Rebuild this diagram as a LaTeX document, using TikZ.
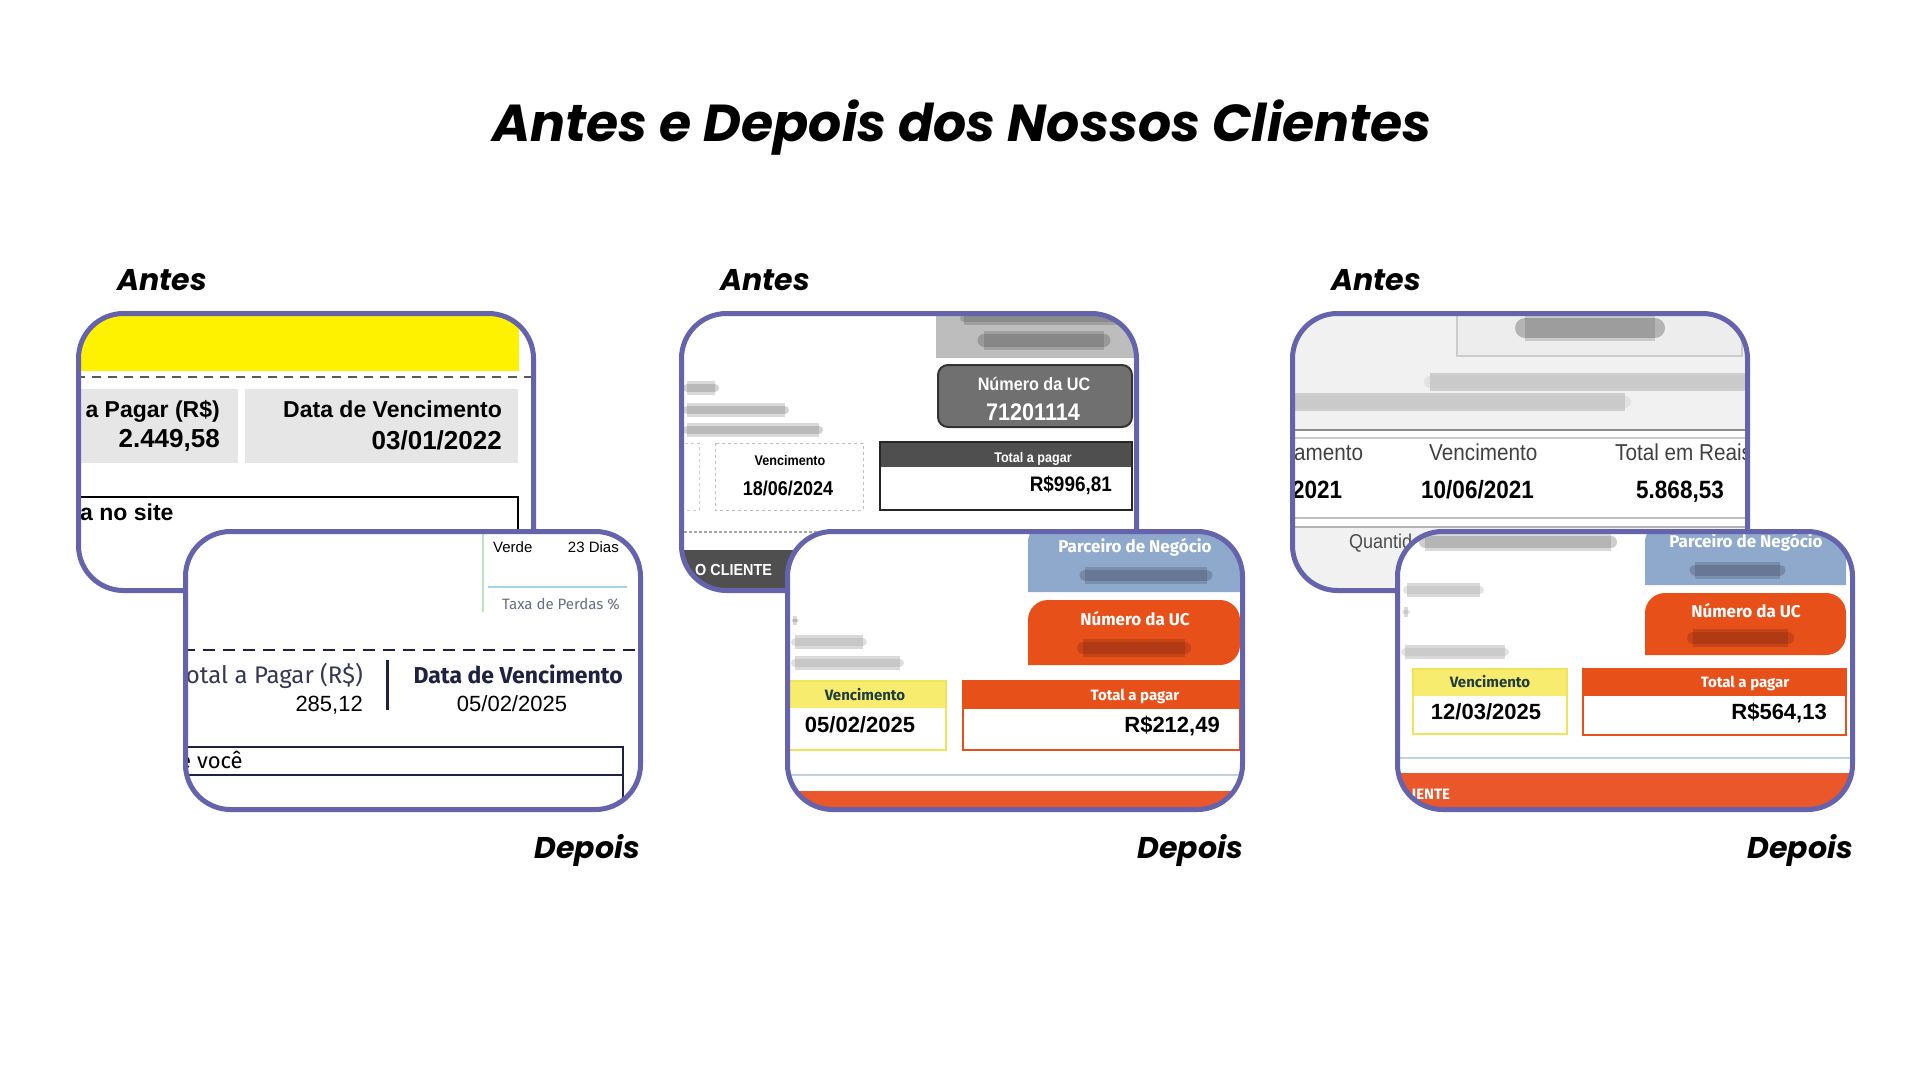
\documentclass[tikz,border=0pt]{standalone}
\usepackage{fontspec}
\setmainfont{Liberation Sans}
\newfontfamily\titlefont{Poppins}
\newfontfamily\narrowfont{Liberation Sans}[FakeStretch=0.9]
\newfontfamily\firafont{Fira Sans}
\usepackage{tikz}
\definecolor{framecol}{HTML}{6563AC}
\definecolor{billyellow}{HTML}{FFF200}
\definecolor{oldgray}{HTML}{E6E6E6}
\definecolor{navy}{HTML}{1E2140}
\definecolor{lightblue}{HTML}{A8D0E6}
\definecolor{lightgreen}{HTML}{BFE3BF}
\definecolor{taxgray}{HTML}{6A6E82}
\definecolor{scanlight}{HTML}{BDBDBD}
\definecolor{scanmid}{HTML}{707070}
\definecolor{scandark}{HTML}{4F4F4F}
\definecolor{scanbg}{HTML}{F1F1F1}
\definecolor{partblue}{HTML}{8EA9CC}
\definecolor{ucorange}{HTML}{E8501A}
\definecolor{ucdark}{HTML}{8A2A10}
\definecolor{dueyellow}{HTML}{F7EC6E}
\definecolor{dueborder}{HTML}{F2E45A}
\definecolor{duetext}{HTML}{1F3D3F}
\definecolor{lineblue}{HTML}{BFD3E3}
\definecolor{bandorange}{HTML}{E9572B}
\newcommand\fsz[1]{\fontsize{#1}{#1}\selectfont}
\tikzset{smudge/.style={line cap=round, line width=#1pt, draw opacity=0.35,
  preaction={draw, line width=#1pt+6pt, draw opacity=0.15}}}

\begin{document}
\begin{tikzpicture}[x=1pt, y=-1pt]
\tikzstyle{billframe} = [draw=framecol, line width=5pt, rounded corners=45pt]
\tikzstyle{sidelabel} = [inner sep=0pt, font=\titlefont\bfseries\itshape\fsz{30}]
\tikzstyle{txt} = [inner sep=0pt]
\useasboundingbox[fill=white] (0,0) rectangle (1920,1080);

\node[txt, anchor=base, font=\titlefont\bfseries\itshape\fsz{52}] (title) at (962,141) {Antes e Depois dos Nossos Clientes};

 %%Labels
\node[sidelabel, anchor=base west] (antes1) at (117,290) {Antes};
\node[sidelabel, anchor=base west] (antes2) at (720,290) {Antes};
\node[sidelabel, anchor=base west] (antes3) at (1331,290) {Antes};
\node[sidelabel, anchor=base east] (depois1) at (640,858) {Depois};
\node[sidelabel, anchor=base east] (depois2) at (1243,858) {Depois};
\node[sidelabel, anchor=base east] (depois3) at (1853,858) {Depois};

 %%Pair 1, antes
\begin{scope}[shift={(76,311)}]
\begin{scope}
\clip[rounded corners=45pt] (2.5,2.5) rectangle (457.5,279.5);
\fill[white] (0,0) rectangle (460,283);
\fill[billyellow] (0,4) rectangle (443,60);
\draw[black!65, line width=2.5pt, dash pattern=on 9pt off 7pt] (0,66) -- (460,66);
\fill[oldgray] (0,78) rectangle (162,152);
\fill[oldgray] (169,78) rectangle (442,152);
\node[txt, anchor=base east, font=\bfseries\fsz{23}] (pay1) at (144,106) {a Pagar (R\$)};
\node[txt, anchor=base east, font=\bfseries\fsz{26}] (val1) at (144,136) {2.449,58};
\node[txt, anchor=base east, font=\bfseries\fsz{23}] (due1) at (426,106) {Data de Vencimento};
\node[txt, anchor=base east, font=\bfseries\fsz{26}] (date1) at (426,138) {03/01/2022};
\draw[line width=2.5pt] (-5,186) -- (442,186) -- (442,230);
\node[txt, anchor=base west, font=\bfseries\fsz{23}] (site1) at (4,209) {a no site};
\end{scope}
\draw[billframe] (2.5,2.5) rectangle (457.5,279.5);
\end{scope}

 %%Pair 1, depois
\begin{scope}[shift={(183,529)}]
\begin{scope}
\clip[rounded corners=45pt] (2.5,2.5) rectangle (457.5,280.5);
\fill[white] (0,0) rectangle (460,283);
\draw[lightgreen, line width=1.5pt] (300,0) -- (300,83);
\node[txt, anchor=base west, font=\fsz{15}] (verde) at (310,23) {Verde};
\node[txt, anchor=base east, font=\fsz{15}] (dias) at (436,23) {23 Dias};
\draw[lightblue, line width=2pt] (305,58) -- (444,58);
\node[txt, anchor=base west, font=\firafont\fsz{15}, text=taxgray] (taxa) at (319,80) {Taxa de Perdas \%};
\draw[navy, line width=2.5pt, dash pattern=on 12pt off 8pt] (0,121) -- (460,121);
\node[txt, anchor=base east, font=\firafont\fsz{24}, text=navy!90] (pay2) at (180,154) {otal a Pagar (R\$)};
\node[txt, anchor=base east, font=\fsz{22}] (val2) at (180,182) {285,12};
\draw[navy, line width=3pt] (204,131) -- (204,181);
\node[txt, anchor=base east, font=\firafont\bfseries\fsz{23}, text=navy] (due2) at (440,154) {Data de Vencimento};
\node[txt, anchor=base, font=\fsz{22}] (date2) at (329,182) {05/02/2025};
\draw[navy, line width=2.5pt] (-5,218) -- (440,218) -- (440,300);
\draw[navy, line width=2.5pt] (-5,246) -- (440,246);
\node[txt, anchor=base west, font=\firafont\fsz{22}] (voce) at (-4,239) {e você};
\end{scope}
\draw[billframe] (2.5,2.5) rectangle (457.5,280.5);
\end{scope}

 %%Pair 2, antes
\begin{scope}[shift={(679,311)}]
\begin{scope}
\clip[rounded corners=45pt] (2.5,2.5) rectangle (457.5,279.5);
\fill[white] (0,0) rectangle (460,283);
\fill[scanlight] (257,-5) rectangle (470,47);
\draw[smudge=8, black!60] (285,7) -- (440,7);
\draw[smudge=13, black!65] (305,29) -- (425,29);
\filldraw[fill=scanmid, draw=black!80, line width=2pt, rounded corners=10pt] (259,54) rectangle (453,116);
\node[txt, anchor=base, text=white, font=\narrowfont\bfseries\fsz{18}] (uc1) at (355,79) {Número da UC};
\node[txt, anchor=base, text=white, font=\narrowfont\bfseries\fsz{24}] (ucn1) at (354,109) {71201114};
\fill[scandark] (201,131) rectangle (453,156);
\draw[black!85, line width=2.5pt] (201,131) rectangle (453,199);
\node[txt, anchor=base, text=white, font=\narrowfont\bfseries\fsz{14}] (tp1) at (354,151) {Total a pagar};
\node[txt, anchor=base east, font=\narrowfont\bfseries\fsz{21}] (tv1) at (433,180) {R\$996,81};
\draw[black!25, dashed, line width=1pt] (36,132) rectangle (184,199);
\draw[black!20, dashed, line width=1pt] (3,132) rectangle (20,199);
\node[txt, anchor=base, font=\narrowfont\bfseries\fsz{14}] (vc1) at (111,154) {Vencimento};
\node[txt, anchor=base, font=\narrowfont\bfseries\fsz{20}] (vd1) at (109,184) {18/06/2024};
\draw[smudge=8, black!50] (8,77) -- (36,77);
\draw[smudge=8, black!50] (8,99) -- (106,99);
\draw[smudge=8, black!50] (8,119) -- (140,119);
\draw[black!35, line width=1.5pt, dash pattern=on 3pt off 2pt] (0,221) -- (470,221);
\fill[scandark] (0,239) rectangle (220,290);
\node[txt, anchor=base west, text=white, font=\narrowfont\bfseries\fsz{16}] (oc1) at (16,264) {O CLIENTE};
\end{scope}
\draw[billframe] (2.5,2.5) rectangle (457.5,279.5);
\end{scope}

 %%Pair 2, depois
\begin{scope}[shift={(785,529)}]
\begin{scope}
\clip[rounded corners=45pt] (2.5,2.5) rectangle (457.5,280.5);
\fill[white] (0,0) rectangle (460,283);
\fill[partblue] (243,63) {[rounded corners=18pt] -- (243,-5) -- (470,-5)} -- (470,63) -- cycle;
\node[txt, anchor=base, text=white, font=\firafont\bfseries\fsz{17}] (pn2) at (350,23) {Parceiro de Negócio};
\draw[smudge=11, navy!80] (300,46) -- (422,46);
\fill[ucorange] (243,136) {[rounded corners=20pt] -- (243,71) -- (455,71) -- (455,136)} -- cycle;
\node[txt, anchor=base, text=white, font=\firafont\bfseries\fsz{17}] (uc2) at (350,96) {Número da UC};
\draw[smudge=12, ucdark] (298,119) -- (400,119);
\draw[smudge=3, black!50] (8,91) -- (12,91);
\draw[smudge=8, black!35] (10,113) -- (78,113);
\draw[smudge=8, black!35] (10,134) -- (115,134);
\fill[dueyellow] (-5,152) rectangle (161,179);
\draw[dueborder, line width=2.5pt] (-5,152) rectangle (161,221);
\node[txt, anchor=base, text=duetext, font=\firafont\bfseries\fsz{15}] (vc2) at (80,171) {Vencimento};
\node[txt, anchor=base, font=\bfseries\fsz{22}] (vd2) at (75,203) {05/02/2025};
\fill[ucorange] (178,152) rectangle (455,180);
\draw[ucorange, line width=2.5pt] (178,152) rectangle (455,221);
\node[txt, anchor=base, text=white, font=\firafont\bfseries\fsz{15}] (tp2) at (350,171) {Total a pagar};
\node[txt, anchor=base east, font=\bfseries\fsz{22}] (tv2) at (435,203) {R\$212,49};
\draw[lineblue, line width=1.5pt] (0,246) -- (460,246);
\fill[bandorange] (0,262) rectangle (460,290);
\end{scope}
\draw[billframe] (2.5,2.5) rectangle (457.5,280.5);
\end{scope}

 %%Pair 3, antes
\begin{scope}[shift={(1290,311)}]
\begin{scope}
\clip[rounded corners=45pt] (2.5,2.5) rectangle (457.5,279.5);
\fill[white] (0,0) rectangle (460,283);
\fill[scanbg] (0,0) rectangle (460,119);
\filldraw[fill=black!7, draw=black!20, line width=1.5pt] (167,-5) rectangle (452,45);
\draw[smudge=20, black!70] (235,17) -- (365,17);
\draw[smudge=12, black!22] (140,71) -- (455,71);
\draw[smudge=12, black!22] (5,91) -- (335,91);
\draw[black!45, line width=2pt] (0,119) -- (460,119);
\draw[black!20, line width=1.5pt] (0,127) -- (460,127);
\draw[black!25, line width=1.5pt] (0,207) -- (460,207);
\fill[scanbg] (0,216) rectangle (460,290);
\draw[black!30, line width=1.5pt] (0,216) -- (460,216);
\node[txt, anchor=base west, text=black!75, font=\narrowfont\fsz{23}] (am3) at (4,149) {amento};
\node[txt, anchor=base west, text=black!75, font=\narrowfont\fsz{23}] (ve3) at (139,149) {Vencimento};
\node[txt, anchor=base west, text=black!75, font=\narrowfont\fsz{23}] (tr3) at (325,149) {Total em Reais};
\node[txt, anchor=base west, font=\narrowfont\bfseries\fsz{25}] (yr3) at (2,187) {2021};
\node[txt, anchor=base west, font=\narrowfont\bfseries\fsz{25}] (dt3) at (131,187) {10/06/2021};
\node[txt, anchor=base west, font=\narrowfont\bfseries\fsz{25}] (vl3) at (346,187) {5.868,53};
\node[txt, anchor=base west, text=black!70, font=\narrowfont\fsz{20}] (qt3) at (59,237) {Quantid};
\end{scope}
\draw[billframe] (2.5,2.5) rectangle (457.5,279.5);
\end{scope}

 %%Pair 3, depois
\begin{scope}[shift={(1395,529)}]
\begin{scope}
\clip[rounded corners=45pt] (2.5,2.5) rectangle (457.5,280.5);
\fill[white] (0,0) rectangle (460,283);
\draw[smudge=12, black!55] (30,13) -- (216,13);
\fill[partblue] (250,56) {[rounded corners=18pt] -- (250,-5) -- (451,-5)} -- (451,56) -- cycle;
\node[txt, anchor=base, text=white, font=\firafont\bfseries\fsz{17}] (pn3) at (351,18) {Parceiro de Negócio};
\draw[smudge=11, navy!80] (300,41) -- (385,41);
\fill[ucorange] (250,126) {[rounded corners=20pt] -- (250,64) -- (451,64) -- (451,126)} -- cycle;
\node[txt, anchor=base, text=white, font=\firafont\bfseries\fsz{17}] (uc3) at (351,88) {Número da UC};
\draw[smudge=12, ucdark] (298,109) -- (393,109);
\draw[smudge=8, black!30] (12,61) -- (85,61);
\draw[smudge=4, black!30] (9,83) -- (13,83);
\draw[smudge=8, black!30] (10,123) -- (110,123);
\fill[dueyellow] (18,140) rectangle (172,167);
\draw[dueborder, line width=2.5pt] (18,140) rectangle (172,205);
\node[txt, anchor=base, text=duetext, font=\firafont\bfseries\fsz{15}] (vc3) at (95,158) {Vencimento};
\node[txt, anchor=base, font=\bfseries\fsz{22}] (vd3) at (91,190) {12/03/2025};
\fill[ucorange] (188,140) rectangle (451,167);
\draw[ucorange, line width=2.5pt] (188,140) rectangle (451,206);
\node[txt, anchor=base, text=white, font=\firafont\bfseries\fsz{15}] (tp3) at (350,158) {Total a pagar};
\node[txt, anchor=base east, font=\bfseries\fsz{22}] (tv3) at (432,190) {R\$564,13};
\draw[lineblue, line width=1.5pt] (0,229) -- (460,229);
\fill[bandorange] (0,244) rectangle (460,290);
\node[txt, anchor=base west, text=white, font=\firafont\bfseries\fsz{15}] (li3) at (9,270) {LIENTE};
\end{scope}
\draw[billframe] (2.5,2.5) rectangle (457.5,280.5);
\end{scope}
\end{tikzpicture}
\end{document}
